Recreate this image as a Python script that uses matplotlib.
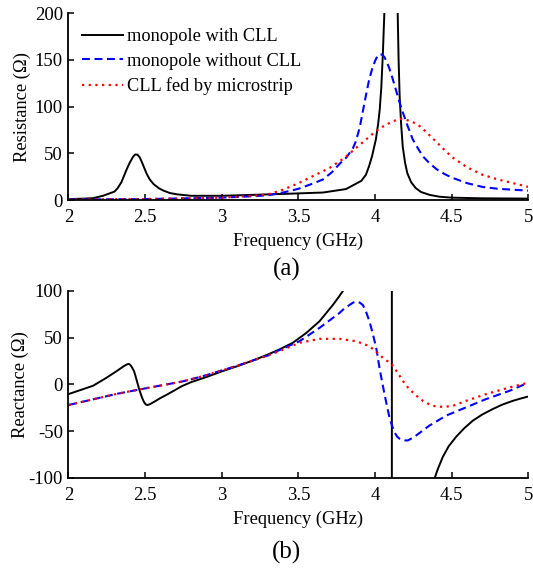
import numpy as np
import matplotlib
matplotlib.use("Agg")
from matplotlib import pyplot as plt

plt.rcParams['font.family'] = ['Liberation Serif', 'DejaVu Serif']
plt.rcParams['axes.unicode_minus'] = False

labels = ['monopole with CLL', 'monopole without CLL', 'CLL fed by microstrip']

# resistance (ohm) vs frequency (GHz)
f_r_cll = [2.0, 2.1, 2.16, 2.225, 2.3, 2.32, 2.345, 2.36, 2.38, 2.4, 2.42, 2.435,
           2.45, 2.465, 2.48, 2.495, 2.51, 2.53, 2.555, 2.59, 2.62, 2.66, 2.71,
           2.8, 3.0, 3.2, 3.4, 3.66, 3.81, 3.91, 3.94, 3.96, 3.98, 4.005, 4.02,
           4.03, 4.04, 4.05, 4.06, 4.08, 4.1, 4.12, 4.14, 4.147, 4.153, 4.16, 4.17,
           4.18, 4.195, 4.21, 4.235, 4.265, 4.3, 4.355, 4.42, 4.5, 4.7, 5.0]
r_cll = [1, 1.5, 2, 4.5, 9, 12.5, 19, 25, 33, 40, 46, 48.7,
         48.5, 45.5, 40, 34, 28, 22, 17, 12.5, 10, 7.5, 6,
         4.5, 4.5, 5.5, 6.5, 8, 11.7, 20.5, 27, 36, 47, 65, 82,
         97, 120, 155, 200, 400, 900, 400, 230, 200, 150, 110, 80,
         57, 40, 28.6, 19, 12.7, 8.5, 5.5, 3.5, 2.5, 1.8, 1.5]

f_r_nocll = [2.0, 2.5, 3.0, 3.2, 3.3, 3.4, 3.5, 3.6, 3.66, 3.72, 3.77, 3.81, 3.854,
             3.875, 3.9, 3.92, 3.94, 3.96, 3.98, 4.0, 4.015, 4.03, 4.045, 4.06,
             4.075, 4.09, 4.11, 4.135, 4.16, 4.18, 4.21, 4.245, 4.28, 4.31, 4.35,
             4.4, 4.45, 4.5, 4.55, 4.6, 4.7, 4.8, 4.9, 5.0]
r_nocll = [0.5, 1, 2.5, 4, 5, 8, 12, 18, 22, 30, 39, 45, 55,
           63, 78, 95, 112, 128, 140, 149, 154, 156, 155.5, 153,
           148, 142, 132, 118, 104, 94, 80, 65, 55, 47, 40,
           33, 28, 24, 21, 18, 14, 12, 11, 10]

f_r_micro = [2.0, 2.5, 3.0, 3.2, 3.3, 3.4, 3.5, 3.6, 3.7, 3.8, 3.9, 4.0, 4.05, 4.1,
             4.16, 4.2, 4.25, 4.3, 4.35, 4.4, 4.5, 4.6, 4.7, 4.8, 4.9, 5.0]
r_micro = [0.5, 1, 2.5, 4.5, 6, 11, 18, 26, 34, 45, 59, 73, 78.5, 83,
           87, 86, 83, 78, 70, 62, 46, 35, 27, 22, 18, 14]

# reactance (ohm) vs frequency (GHz)
f_x_cll = [2.0, 2.16, 2.25, 2.316, 2.36, 2.383, 2.395, 2.405, 2.415, 2.427, 2.438,
           2.449, 2.46, 2.471, 2.482, 2.493, 2.505, 2.515, 2.53, 2.56, 2.6, 2.648,
           2.7, 2.737, 2.8, 2.9, 3.0, 3.1, 3.2, 3.3, 3.376, 3.463, 3.55, 3.637,
           3.724, 3.76, 3.79, 3.9, 4.0, 4.109, 4.109, 4.2, 4.3, 4.37, 4.391, 4.41,
           4.441, 4.48, 4.528, 4.58, 4.637, 4.7, 4.767, 4.83, 4.898, 4.95, 5.0]
x_cll = [-10.3, -1.4, 7.4, 14.5, 19.5, 21.6, 22, 20.5, 18, 14.5, 8.5,
         2, -4.5, -10, -15, -19, -21.5, -22, -21.2, -18.4, -14.5, -10.3,
         -5.5, -2, 2.5, 8, 14, 19.5, 25.5, 32, 37.5, 44.6, 55, 67.6,
         85, 93, 100, 160, 300, 3000, -3000, -400, -180, -112, -98.8, -90,
         -77.6, -66, -56, -47, -38.7, -32, -26.3, -21.5, -17.5, -15, -12.8]

f_x_nocll = [2.0, 2.316, 2.5, 2.737, 2.8, 2.9, 3.0, 3.1, 3.2, 3.3, 3.376, 3.507,
             3.637, 3.767, 3.8, 3.833, 3.855, 3.876, 3.9, 3.92, 3.94, 3.963, 3.985,
             4.007, 4.028, 4.045, 4.061, 4.077, 4.093, 4.11, 4.126, 4.142, 4.159,
             4.185, 4.213, 4.24, 4.267, 4.354, 4.463, 4.593, 4.724, 4.876, 5.0]
x_nocll = [-22, -10, -4.2, 3, 5.5, 10, 15, 20, 25.5, 31, 36.8, 46.3,
           60.5, 76.4, 81.5, 85, 87.5, 88.8, 87.5, 85, 78, 67.6, 54,
           39.2, 18, 3, -10.3, -23, -35, -44, -51, -55.5, -58,
           -59.8, -59.9, -57.5, -54.6, -44, -33.3, -24.5, -15.6, -6.8, 2]

f_x_micro = [2.0, 2.316, 2.5, 2.737, 2.8, 2.9, 3.0, 3.1, 3.2, 3.3, 3.376, 3.507,
             3.637, 3.767, 3.876, 3.963, 4.028, 4.05, 4.08, 4.109, 4.145, 4.18,
             4.21, 4.246, 4.28, 4.311, 4.345, 4.376, 4.41, 4.441, 4.475, 4.507,
             4.593, 4.724, 4.876, 5.0]
x_micro = [-22, -10, -4.2, 3, 5.5, 10, 15, 20, 25.5, 31, 35.7, 44.6,
           48.8, 48.8, 46.3, 41, 32, 28.5, 25, 21.5, 13, 4,
           -2.5, -8.5, -13.5, -17.5, -20.5, -22.8, -23.8, -23.8, -23.5, -22.8,
           -17.5, -10.3, -3.2, 2]

fig = plt.figure(figsize=(5.33, 5.69), dpi=100)
ax1 = fig.add_axes([0.1285, 0.6485, 0.863, 0.3286])
ax2 = fig.add_axes([0.1285, 0.16, 0.863, 0.3286])

black = dict(color='black', lw=1.4, ls='-')
blue = dict(color='blue', lw=1.5, ls=(0, (3.8, 2.2)))
red = dict(color='red', lw=1.6, ls=(0, (1, 2.0)))

ax1.plot(f_r_cll, r_cll, label=labels[0], **black)
ax1.plot(f_r_nocll, r_nocll, label=labels[1], **blue)
ax1.plot(f_r_micro, r_micro, label=labels[2], **red)
ax1.set_ylim(0, 200)
ax1.set_yticks([0, 50, 100, 150, 200])
ax1.set_ylabel('Resistance (Ω)', fontsize=13.3, labelpad=3)
ax1.legend(loc='upper left', bbox_to_anchor=(0.03, 0.92), frameon=False,
           fontsize=13.2, handlelength=2.2, handletextpad=0.25,
           labelspacing=0.42, borderpad=0, borderaxespad=0)

ax2.plot(f_x_cll, x_cll, **black)
ax2.plot(f_x_nocll, x_nocll, **blue)
ax2.plot(f_x_micro, x_micro, **red)
ax2.set_ylim(-100, 100)
ax2.set_yticks([-100, -50, 0, 50, 100])
ax2.set_ylabel('Reactance (Ω)', fontsize=13.3, labelpad=0)

for ax in (ax1, ax2):
    ax.set_xlim(2, 5)
    ax.set_xticks([2, 2.5, 3, 3.5, 4, 4.5, 5])
    ax.set_xticklabels(['2', '2.5', '3', '3.5', '4', '4.5', '5'])
    ax.set_xlabel('Frequency (GHz)', fontsize=13.3, labelpad=5)
    ax.spines['top'].set_visible(False)
    ax.spines['right'].set_visible(False)
    for s in ('left', 'bottom'):
        ax.spines[s].set_linewidth(1.3)
    ax.tick_params(direction='in', length=4, width=1.1, labelsize=13.5)
    ax.tick_params(axis='x', pad=6.5)
    ax.tick_params(axis='y', pad=4)

fig.text(0.538, 1 - 269 / 569, '(a)', ha='center', va='center', fontsize=18)
fig.text(0.538, 1 - 552 / 569, '(b)', ha='center', va='center', fontsize=18)

fig.savefig('out.png', dpi=100)
